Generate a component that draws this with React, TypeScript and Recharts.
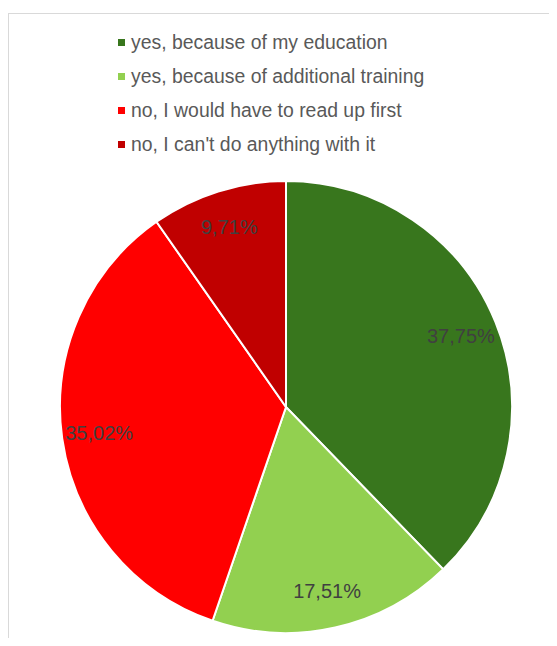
import { PieChart, Pie, Cell, Legend } from 'recharts';

const answers = [
  'yes, because of my education',
  'yes, because of additional training',
  'no, I would have to read up first',
  "no, I can't do anything with it",
];
const shares = [37.75, 17.51, 35.02, 9.71];
const sliceColors = ['#38761d', '#92d050', '#ff0000', '#c00000'];

const data = answers.map((name, i) => ({ name, value: shares[i] }));

const RADIAN = Math.PI / 180;
const fmt = (v: number) => v.toFixed(2).replace('.', ',') + '%';

function SliceLabel(props: any) {
  const { cx, cy, midAngle, outerRadius, value } = props;
  const r = outerRadius * 0.835;
  const x = cx + r * Math.cos(-midAngle * RADIAN);
  const y = cy + r * Math.sin(-midAngle * RADIAN);
  return (
    <text
      x={x}
      y={y}
      fill="#404040"
      fontSize={20}
      textAnchor="middle"
      dominantBaseline="central"
      fontFamily="'Liberation Sans', Arial, sans-serif"
    >
      {fmt(value)}
    </text>
  );
}

function AnswerLegend() {
  return (
    <div style={{ fontFamily: "'Liberation Sans', Arial, sans-serif" }}>
      {data.map((d, i) => (
        <div
          key={d.name}
          style={{ display: 'flex', alignItems: 'center', height: 34, fontSize: 19.4, color: '#595959' }}
        >
          <span
            style={{ width: 7, height: 7, background: sliceColors[i], marginRight: 6, display: 'inline-block' }}
          />
          {d.name}
        </div>
      ))}
    </div>
  );
}

export default function App() {
  return (
    <div style={{ position: 'relative', width: 549, height: 630 }}>
      <div
        style={{
          position: 'absolute',
          left: 0,
          top: 5,
          width: 548,
          height: 630,
          borderTop: '1px solid #d9d9d9',
          borderLeft: '1px solid #d9d9d9',
        }}
      />
      <PieChart width={549} height={630} margin={{ top: 0, right: 0, bottom: 0, left: 0 }}>
        <Legend
          content={<AnswerLegend />}
          wrapperStyle={{ top: 17, left: 110, width: 420 }}
        />
        <Pie
          data={data}
          dataKey="value"
          nameKey="name"
          cx={278}
          cy={399}
          outerRadius={226}
          startAngle={90}
          endAngle={-270}
          stroke="#ffffff"
          strokeWidth={2}
          label={SliceLabel}
          labelLine={false}
          isAnimationActive={false}
        >
          {data.map((d, i) => (
            <Cell key={d.name} fill={sliceColors[i]} />
          ))}
        </Pie>
      </PieChart>
    </div>
  );
}
